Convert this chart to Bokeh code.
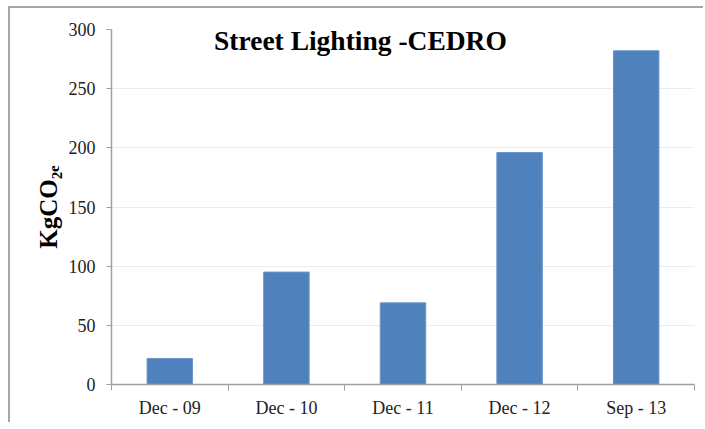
from bokeh.plotting import figure
from bokeh.models import LinearAxis, FixedTicker, Range1d, Grid
from bokeh.embed import file_html
from bokeh.resources import INLINE
from bokeh.core.properties import value

categories = ["Dec - 09", "Dec - 10", "Dec - 11", "Dec - 12", "Sep - 13"]
values = [22, 95, 69, 196, 282]
y_ticks = [0, 50, 100, 150, 200, 250, 300]

xs = [i + 0.5 for i in range(len(categories))]
bounds = list(range(len(categories) + 1))

p = figure(frame_width=583, frame_height=355, output_backend="svg", toolbar_location=None,
           x_range=Range1d(0, len(categories)), y_range=Range1d(0, 300),
           x_axis_location=None, y_axis_location=None,
           min_border_left=101, min_border_top=21, min_border_right=9, min_border_bottom=38)
p.outline_line_color = None
p.styles = {"border-top": "2px solid #a6a6a6", "border-left": "2px solid #a6a6a6",
            "margin-left": "8px", "margin-top": "6px"}

p.vbar(x=xs, top=values, width=0.39, fill_color="#4f81bd", line_color="#6a95c8", line_width=1)

FONT = "Liberation Serif"

yax = LinearAxis(ticker=FixedTicker(ticks=y_ticks))
yax.axis_line_color = "#a0a0a0"
yax.axis_line_width = 1.5
yax.major_tick_line_color = "#a0a0a0"
yax.major_tick_in = 0
yax.major_tick_out = 5
yax.minor_tick_line_color = None
yax.major_label_text_font = FONT
yax.major_label_text_font_size = "18px"
yax.major_label_text_color = "#222222"
yax.major_label_standoff = 11
yax.axis_label = "KgCO₂ₑ"
yax.axis_label_text_font = FONT
yax.axis_label_text_font_style = "bold"
yax.axis_label_text_font_size = "25px"
yax.axis_label_text_color = "#000000"
yax.axis_label_standoff = 4
p.add_layout(yax, "left")

xax = LinearAxis(ticker=FixedTicker(ticks=xs, minor_ticks=bounds))
xax.axis_line_color = "#a0a0a0"
xax.axis_line_width = 1.5
xax.major_tick_line_color = None
xax.minor_tick_line_color = "#a0a0a0"
xax.minor_tick_in = 0
xax.minor_tick_out = 6
xax.major_label_overrides = {x: c for x, c in zip(xs, categories)}
xax.major_label_text_font = FONT
xax.major_label_text_font_size = "18px"
xax.major_label_text_color = "#222222"
xax.major_label_standoff = 7
p.add_layout(xax, "below")

for gr in p.xgrid + p.ygrid:
    gr.grid_line_color = None
g = Grid(dimension=1, ticker=FixedTicker(ticks=y_ticks), grid_line_color="#ececec", grid_line_width=1)
p.add_layout(g)

p.text(x=[2.135], y=[291], text=["Street Lighting -CEDRO"], text_font=value(FONT),
       text_font_style="bold", text_font_size="27.5px", text_align="center",
       text_baseline="middle", text_color="#000000")

open("out.html", "w").write(file_html(p, INLINE))
